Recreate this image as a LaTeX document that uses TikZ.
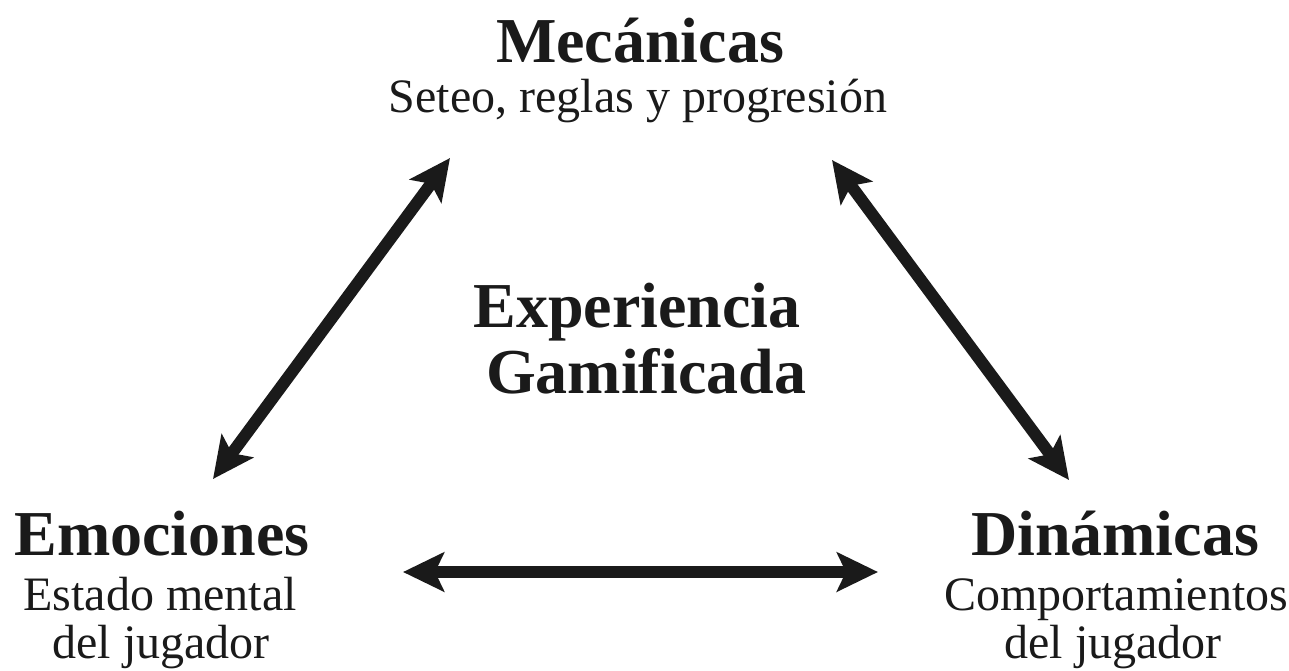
\documentclass[tikz,border=0pt]{standalone}
\usepackage{fontspec}
\setmainfont{Liberation Serif}
\usetikzlibrary{arrows.meta}
\definecolor{ink}{HTML}{1A1A1A}
\tikzset{
  title/.style={anchor=base, inner sep=0pt, text=ink, font=\fontsize{64}{66}\selectfont\bfseries},
  subtitle/.style={anchor=base, inner sep=0pt, text=ink, font=\fontsize{48}{50}\selectfont},
  dblarrow/.style={draw=ink, line width=12pt,
    {Stealth[length=41pt,width=39pt,inset=9pt]}-{Stealth[length=41pt,width=39pt,inset=9pt]}}
}
\begin{document}
\begin{tikzpicture}[x=1pt,y=-1pt]
\useasboundingbox (0,0) rectangle (1289,670);
% top
\node[title]    (mec)  at (640,62)  {Mecánicas};
\node[subtitle] (mecs) at (638,112) {Seteo, reglas y progresión};
% center
\node[title]    (exp1) at (637,327) {Experiencia};
\node[title]    (exp2) at (646,393) {Gamificada};
% left
\node[title]    (emo)  at (162,555) {Emociones};
\node[subtitle] (emo1) at (160,610) {Estado mental};
\node[subtitle] (emo2) at (161,658) {del jugador};
% right
\node[title]    (din)  at (1115,555) {Dinámicas};
\node[subtitle] (din1) at (1116,610) {Comportamientos};
\node[subtitle] (din2) at (1113,658) {del jugador};
% arrow ends
\coordinate (lt) at (450,158);
\coordinate (lb) at (213,479);
\coordinate (rt) at (832,160);
\coordinate (rb) at (1069,480);
\coordinate (hl) at (403,572);
\coordinate (hr) at (878,572);
\draw[dblarrow] (lb) -- (lt);
\draw[dblarrow] (rt) -- (rb);
\draw[dblarrow] (hl) -- (hr);
\end{tikzpicture}
\end{document}
